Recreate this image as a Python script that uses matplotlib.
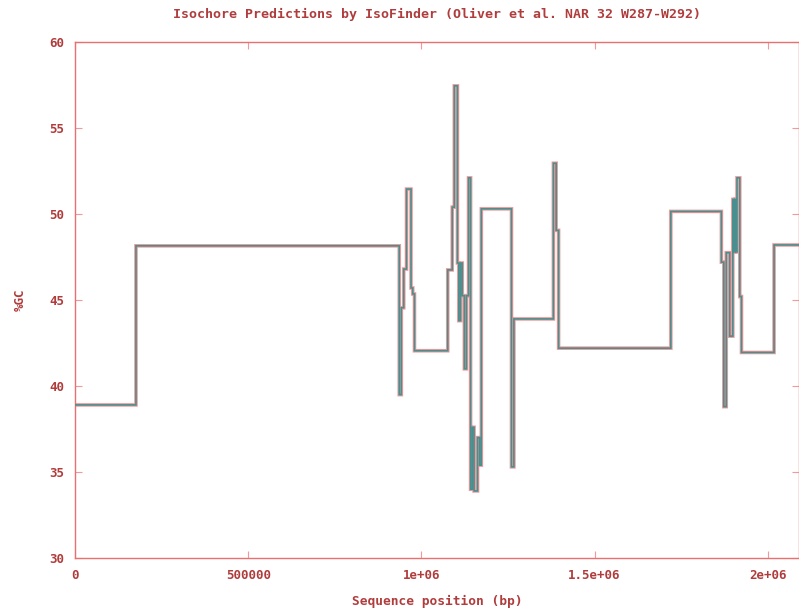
import matplotlib
matplotlib.use("Agg")
import matplotlib.pyplot as plt
import numpy as np

plt.rcParams["path.simplify"] = False

# segment start positions (bp) and %GC values (step function)
positions = [0, 176000, 936000, 942000, 949000, 957000, 970000, 975000, 980000,
             1076000, 1089000, 1095000, 1104000, 1108000, 1113000, 1118000, 1124000,
             1130000, 1136000, 1142000, 1147000, 1152000, 1162000, 1168000, 1173000,
             1260000, 1267000, 1381000, 1389000, 1396000, 1720000, 1866000, 1873000,
             1880000, 1890000, 1899000, 1902000, 1905000, 1908000, 1911000, 1919000,
             1924000, 2018000]
gc_values = [38.9, 48.15, 39.5, 44.55, 46.8, 51.45, 45.7, 45.35, 42.05,
             46.75, 50.4, 57.45, 47.15, 43.8, 47.15, 45.25, 41.0,
             45.25, 52.1, 34.0, 37.6, 33.9, 37.0, 35.4, 50.3,
             35.3, 43.9, 52.95, 49.05, 42.2, 50.15, 47.2, 38.8,
             47.75, 42.9, 50.85, 47.8, 50.85, 47.8, 52.1, 45.2,
             41.95, 48.2]
seq_end = 2090000

x_ticks = [0, 500000, 1000000, 1500000, 2000000]
x_ticklabels = ["0", "500000", "1e+06", "1.5e+06", "2e+06"]
y_ticks = [30, 35, 40, 45, 50, 55, 60]

xs = positions + [seq_end]
ys = gc_values + [gc_values[-1]]

red = "#f29a9a"
teal = "#4a8f8f"
txt = "#b03c3c"
font = {"family": "DejaVu Sans Mono", "weight": "bold"}

fig = plt.figure(figsize=(7.99, 6.14), dpi=100)
ax = fig.add_axes([75/799, 56/614, 724/799, 516/614])

ax.plot(xs, ys, drawstyle="steps-post", color=red, lw=2.6,
        solid_joinstyle="miter", snap=False, zorder=2)
ax.plot(xs, ys, drawstyle="steps-post", color=teal, lw=1.2,
        solid_joinstyle="miter", snap=False, zorder=3)

ax.set_xlim(0, seq_end)
ax.set_ylim(30, 60)
ax.set_xticks(x_ticks)
ax.set_xticklabels(x_ticklabels, **font, fontsize=9, color=txt)
ax.set_yticks(y_ticks)
ax.set_yticklabels([str(v) for v in y_ticks], **font, fontsize=9, color=txt)
ax.tick_params(direction="in", length=5, width=0.8, color=red,
               top=True, right=True, pad=8)
for s in ax.spines.values():
    s.set_color("#e87070")
    s.set_linewidth(1.0)

ax.set_title("Isochore Predictions by IsoFinder (Oliver et al. NAR 32 W287-W292)",
             **font, fontsize=9.5, color=txt, pad=17)
ax.set_xlabel("Sequence position (bp)", **font, fontsize=9.3, color=txt, labelpad=9)
ax.set_ylabel("%GC", **font, fontsize=9, color=txt, labelpad=16)

fig.savefig("out.png", dpi=100)
